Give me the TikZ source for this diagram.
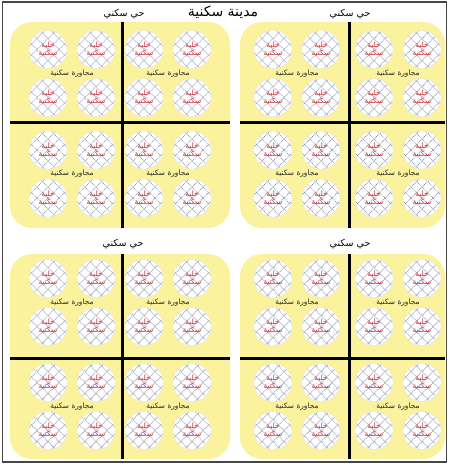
\documentclass[tikz,border=0pt]{standalone}
\usepackage{fontspec}
\newfontfamily\arabicfont[Script=Arabic]{DejaVu Sans}
\TeXXeTstate=1
\newcommand\artext[1]{\beginR #1\endR}
\definecolor{distyellow}{RGB}{251,242,158}
\definecolor{gridblue}{RGB}{125,138,178}
\definecolor{cellred}{RGB}{205,45,45}
\definecolor{framegray}{RGB}{70,70,70}
\tikzset{
  district/.style={fill=distyellow, rounded corners=22pt},
  road/.style={line width=3pt, black},
  griddot/.style={gridblue, line width=0.7pt, dash pattern=on 0.9pt off 0.9pt},
  cell/.style={circle, minimum size=38pt, inner sep=0pt, fill=white, draw=black!10, line width=0.3pt,
    text=cellred, align=center, font=\arabicfont\fontsize{7.4}{7.6}\selectfont,
    path picture={\foreach \k in {-3,...,3}{
      \draw[griddot] ([shift={(\k*11-25,-25)}]path picture bounding box.center) -- ++(50,50);
      \draw[griddot] ([shift={(\k*11-25,25)}]path picture bounding box.center) -- ++(50,-50);}}},
  hood/.style={font=\arabicfont\fontsize{7.4}{7.6}\selectfont, text=black!85, inner sep=0pt},
  distlabel/.style={font=\arabicfont\fontsize{9.5}{10}\selectfont, inner sep=0pt},
  citylabel/.style={font=\arabicfont\fontsize{14}{15}\selectfont, inner sep=0pt},
  frame/.style={draw=framegray, line width=1.5pt}
}
\begin{document}
\begin{tikzpicture}[x=1pt,y=-1pt]
\useasboundingbox (0,0) rectangle (449,466);
\draw[frame] (2.5,2) rectangle (446.5,462);
\foreach \d/\xa/\ya/\xb/\yb/\vx/\hy/\ca/\cb/\ra/\rb in {
  1/10/22/230/228/122/122/72/168/73.5/174,
  2/240/22/445/228/349/122/297/398/73.5/174,
  3/10/254/230/459/122/358/72/168/302.5/406.5,
  4/240/254/445/459/349/358/297/398/302.5/406.5}{
  \fill[district] (\xa,\ya) rectangle (\xb,\yb);
  \draw[road] (\vx,\ya) -- (\vx,\yb);
  \draw[road] (\xa,\hy) -- (\xb,\hy);
  \foreach \cx/\i in {\ca/1,\cb/2}{
    \foreach \cy/\j in {\ra/1,\rb/2}{
      \node[hood] (h\d\i\j) at (\cx,\cy) {\artext{مجاورة سكنية}};
      \foreach \dx/\dy/\k in {-24/-24/1,24/-24/2,-24/24/3,24/24/4}{
        \node[cell] (c\d\i\j\k) at (\cx+\dx,\cy+\dy) {\artext{خلية}\\\artext{سكنية}};
      }
    }
  }
}
\node[citylabel] (city) at (223,12) {\artext{مدينة سكنية}};
\node[distlabel] (d1) at (124,14) {\artext{حي سكني}};
\node[distlabel] (d2) at (350,14) {\artext{حي سكني}};
\node[distlabel] (d3) at (123,244) {\artext{حي سكني}};
\node[distlabel] (d4) at (350,244) {\artext{حي سكني}};
\end{tikzpicture}
\end{document}
